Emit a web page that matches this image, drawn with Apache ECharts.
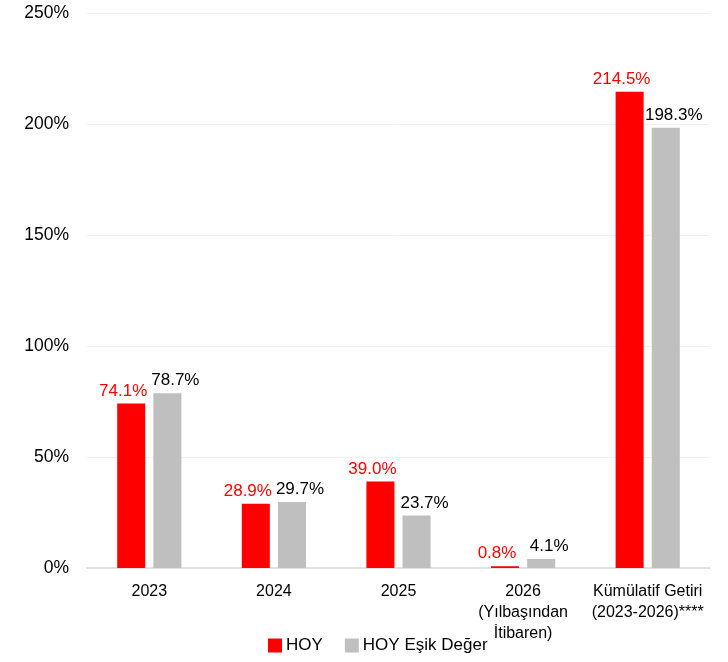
<!DOCTYPE html>
<html><head><meta charset="utf-8">
<script src="https://cdn.jsdelivr.net/npm/echarts@6/dist/echarts.min.js"></script>
<style>html,body{margin:0;padding:0;background:#fff}#c{width:728px;height:662px}</style>
</head><body><div id="c"></div>
<script>
const categories = ['2023', '2024', '2025', '2026\n(Yılbaşından\nİtibaren)', 'Kümülatif Getiri\n(2023-2026)****'];
const hoy = [74.1, 28.9, 39.0, 0.8, 214.5];
const benchmark = [78.7, 29.7, 23.7, 4.1, 198.3];
const seriesNames = ['HOY', 'HOY Eşik Değer'];

const FONT = 'Liberation Sans';
const chart = echarts.init(document.getElementById('c'));
chart.setOption({
  animation: false,
  textStyle: { fontFamily: FONT },
  grid: { left: 87, right: 18, top: 13, bottom: 94 },
  legend: {
    bottom: 3, left: 263, itemWidth: 14, itemHeight: 14, itemGap: 22,
    icon: 'rect',
    textStyle: { fontSize: 17, color: '#000', fontFamily: FONT, padding: [0, 0, 0, -1] },
    data: seriesNames
  },
  xAxis: {
    type: 'category', data: categories,
    axisLine: { lineStyle: { color: '#d9d9d9', width: 1.5 } },
    axisTick: { show: false },
    axisLabel: { color: '#000', fontSize: 16, lineHeight: 21, margin: 13, interval: 0, fontFamily: FONT }
  },
  yAxis: {
    type: 'value', min: 0, max: 250, interval: 50,
    axisLabel: { formatter: '{value}%', color: '#000', fontSize: 17.5, margin: 18, fontFamily: FONT },
    splitLine: { lineStyle: { color: '#f0f0f0', width: 1 } },
    axisLine: { show: false }, axisTick: { show: false }
  },
  series: [
    {
      name: seriesNames[0], type: 'bar', data: hoy, barWidth: '22.5%', barGap: '29%',
      itemStyle: { color: '#ff0000' },
      label: { show: true, position: 'top', distance: 4, offset: [-8, 0], color: '#ff0000', fontSize: 17, fontFamily: FONT,
        formatter: p => p.value.toFixed(1) + '%' }
    },
    {
      name: seriesNames[1], type: 'bar', data: benchmark, barWidth: '22.5%',
      itemStyle: { color: '#bfbfbf' },
      label: { show: true, position: 'top', distance: 4, offset: [8, 0], color: '#000', fontSize: 17, fontFamily: FONT,
        formatter: p => p.value.toFixed(1) + '%' }
    }
  ]
});
</script></body></html>
